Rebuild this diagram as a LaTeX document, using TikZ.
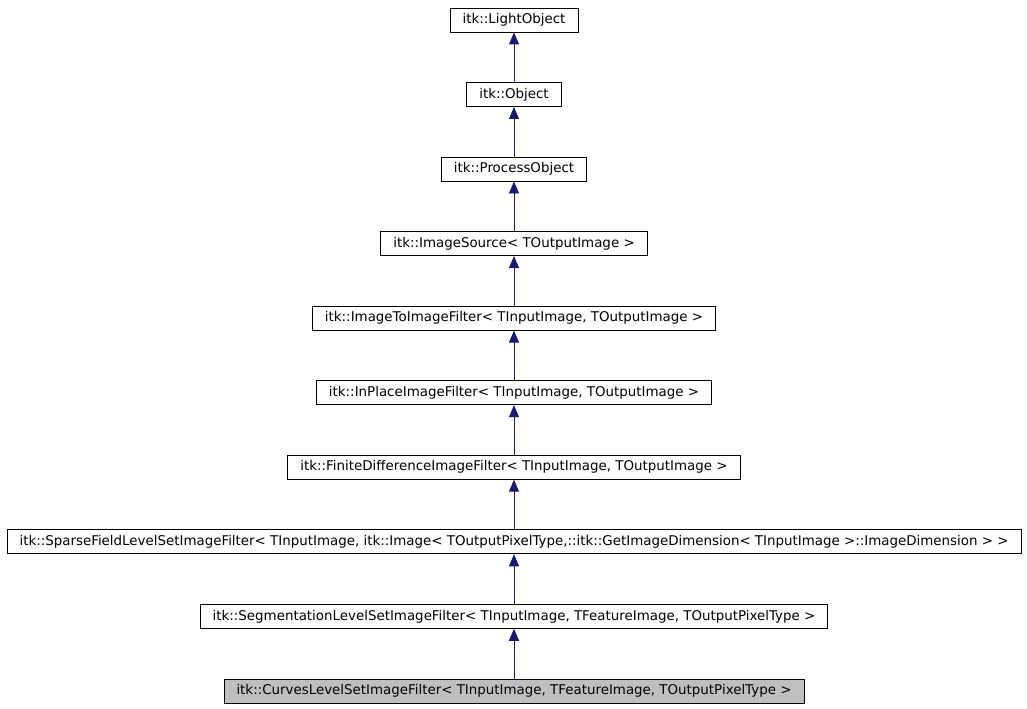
\documentclass[tikz,border=0pt]{standalone}
\usepackage{fontspec}
\setmainfont{DejaVu Sans}
\usetikzlibrary{arrows.meta,positioning}

\definecolor{edgeblue}{HTML}{191970}
\definecolor{curgray}{HTML}{BFBFBF}

\begin{document}
\begin{tikzpicture}[x=1bp,y=1bp,node distance=74.55bp,
                    font=\fontsize{13.4bp}{15bp}\selectfont,
                    cls/.style={draw=black,line width=0.8bp,fill=white,
                      minimum height=24bp,inner xsep=12.5bp,inner ysep=0bp},
                    inh/.style={draw=edgeblue,line width=0.9bp,
                      -{Triangle[length=12bp,width=10bp]},fill=edgeblue}]

  \useasboundingbox[fill=white] (0,0) rectangle (1027,709);

  \node[cls] (lo) at (514,689) {itk::LightObject};
  \node[cls] (ob) [below of=lo] {itk::Object};
  \node[cls] (po) [below of=ob] {itk::ProcessObject};
  \node[cls] (is) [below of=po] {itk::ImageSource< TOutputImage >};
  \node[cls] (ii) [below of=is] {itk::ImageToImageFilter< TInputImage, TOutputImage >};
  \node[cls] (ip) [below of=ii] {itk::InPlaceImageFilter< TInputImage, TOutputImage >};
  \node[cls] (fd) [below of=ip] {itk::FiniteDifferenceImageFilter< TInputImage, TOutputImage >};
  \node[cls] (sf) [below of=fd] {itk::SparseFieldLevelSetImageFilter< TInputImage, itk::Image< TOutputPixelType,::itk::GetImageDimension< TInputImage >::ImageDimension > >};
  \node[cls] (sl) [below of=sf] {itk::SegmentationLevelSetImageFilter< TInputImage, TFeatureImage, TOutputPixelType >};
  \node[cls,fill=curgray] (cl) [below of=sl] {itk::CurvesLevelSetImageFilter< TInputImage, TFeatureImage, TOutputPixelType >};

  \draw[inh] (ob) -- (lo);
  \draw[inh] (po) -- (ob);
  \draw[inh] (is) -- (po);
  \draw[inh] (ii) -- (is);
  \draw[inh] (ip) -- (ii);
  \draw[inh] (fd) -- (ip);
  \draw[inh] (sf) -- (fd);
  \draw[inh] (sl) -- (sf);
  \draw[inh] (cl) -- (sl);
\end{tikzpicture}
\end{document}
